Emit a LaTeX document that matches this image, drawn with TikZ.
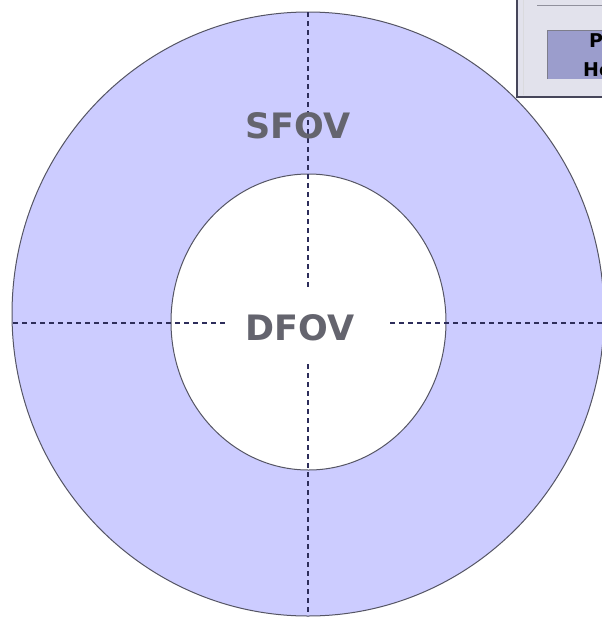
\documentclass[tikz,border=0pt]{standalone}
\usepackage{fontspec}
\setmainfont{DejaVu Sans}
\usetikzlibrary{shapes.geometric}
\definecolor{ringfill}{RGB}{204,204,255}
\definecolor{ringline}{RGB}{85,85,100}
\definecolor{dashcol}{RGB}{45,45,90}
\definecolor{labelcol}{RGB}{100,100,110}
\definecolor{panelbg}{RGB}{226,226,236}
\definecolor{panelline}{RGB}{70,70,90}
\definecolor{btnfill}{RGB}{155,157,204}
\tikzset{
  axis/.style={draw=dashcol, line width=1.4pt, dash pattern=on 5pt off 4pt},
  fovlabel/.style={text=labelcol, font=\fontsize{35}{35}\selectfont\bfseries, inner sep=0pt},
  btntext/.style={text=black, font=\fontsize{19}{19}\selectfont\bfseries, inner sep=0pt, anchor=west}
}
\begin{document}
\begin{tikzpicture}[x=1pt, y=-1pt]
\useasboundingbox (0,0) rectangle (602,619);
\clip (0,0) rectangle (602,619);
\fill[white] (0,0) rectangle (602,619);
% rings
\draw[fill=ringfill, draw=ringline, line width=1pt] (308,314) ellipse [x radius=296, y radius=302];
\draw[fill=white, draw=ringline, line width=1pt] (308.5,322) ellipse [x radius=137.5, y radius=148];
% axes
\coordinate (top) at (308,12);
\coordinate (topend) at (308,288);
\coordinate (botstart) at (308,364);
\coordinate (bot) at (308,616);
\coordinate (left) at (13,323);
\coordinate (leftend) at (225,323);
\coordinate (rightstart) at (390,323);
\coordinate (right) at (602,323);
\draw[axis] (top) -- (topend);
\draw[axis] (botstart) -- (bot);
\draw[axis] (left) -- (leftend);
\draw[axis] (rightstart) -- (right);
% labels
\node[fovlabel] (sfov) at (298,126) {SFOV};
\node[fovlabel] (dfov) at (300,328) {DFOV};
% UI panel fragment
\fill[panelbg] (517,0) rectangle (602,97);
\draw[panelline, line width=1.5pt] (517,0) -- (517,97) -- (602,97);
\draw[white!80!panelline, line width=1pt] (523,0) -- (523,95);
\draw[panelline!60, line width=0.8pt] (537,5) -- (602,5);
\fill[btnfill] (547,30) rectangle (602,79);
\draw[panelline!70, line width=0.8pt] (547,79) -- (547,30) -- (602,30);
\node[btntext] (p) at (589,41) {P};
\node[btntext] (he) at (583,70) {He};
\end{tikzpicture}
\end{document}
